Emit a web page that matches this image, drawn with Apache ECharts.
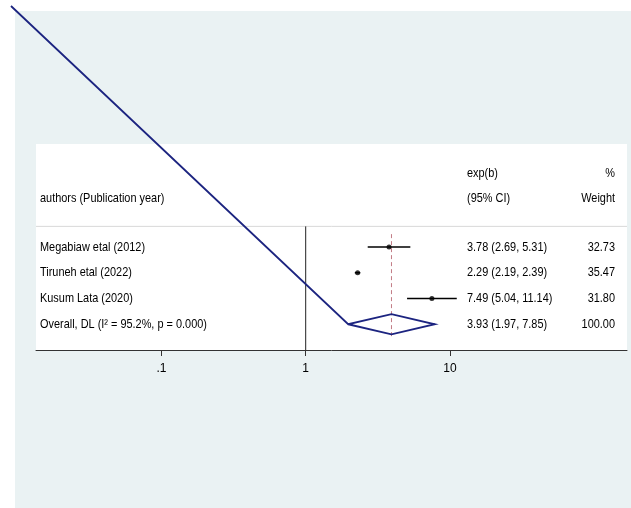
<!DOCTYPE html>
<html>
<head>
<meta charset="utf-8">
<script src="https://cdn.jsdelivr.net/npm/echarts@6/dist/echarts.min.js"></script>
<style>
  body { margin: 0; background: #fff; }
  #wrap { position: relative; width: 631px; height: 508px; }
  #bg { position: absolute; left: 15px; top: 11px; right: 0; bottom: 0; background: #eaf2f3; }
  #chart { position: absolute; left: 0; top: 0; width: 631px; height: 508px; }
</style>
</head>
<body>
<div id="wrap"><div id="bg"></div><div id="chart"></div></div>
<script>
// 数据
const studies = ["Megabiaw etal (2012)", "Tiruneh etal (2022)", "Kusum Lata (2020)"];
const estimates = [3.78, 2.29, 7.49];
const lowerCI = [2.69, 2.19, 5.04];
const upperCI = [5.31, 2.39, 11.14];
const weights = [32.73, 35.47, 31.80];
const overallLabel = "Overall, DL";
const overallCI = [3.93, 1.97, 7.85]; // est, lo, hi
const overallWeight = 100.0;
const heterogeneity = [95.2, 0.000]; // I², p
const tickValues = [0.1, 1, 10];
const tickLabels = [".1", "1", "10"];
// stray segment in the original export, runs from the top-left corner into the diamond
const strayStart = [0.00907, -8.36];

const FONT = '"Liberation Sans", Arial, sans-serif';
const SX = 0.84; // 横向压缩 (原图字体偏窄)
const xMin = 0.01352, xMax = 168.5;
const overallRow = studies.length + 1;

// table rows (text columns)
const tableRows = [
  { row: -1.85, cells: ["", "exp(b)", "%"] },
  { row: -0.88, cells: ["authors (Publication year)", "(95% CI)", "Weight"] }
];
studies.forEach((s, i) => {
  tableRows.push({
    row: i + 1,
    cells: [s,
      estimates[i].toFixed(2) + " (" + lowerCI[i].toFixed(2) + ", " + upperCI[i].toFixed(2) + ")",
      weights[i].toFixed(2)]
  });
});
tableRows.push({
  row: overallRow,
  cells: [overallLabel + " (I\u00B2 = " + heterogeneity[0].toFixed(1) + "%, p = " + heterogeneity[1].toFixed(3) + ")",
    overallCI[0].toFixed(2) + " (" + overallCI[1].toFixed(2) + ", " + overallCI[2].toFixed(2) + ")",
    overallWeight.toFixed(2)]
});

const myChart = echarts.init(document.getElementById("chart"));
const dh = 0.39; // 菱形半高

const diamondPts = [
  strayStart,
  [overallCI[1], overallRow],
  [overallCI[0], overallRow - dh],
  [overallCI[2], overallRow],
  [overallCI[0], overallRow + dh],
  [overallCI[1], overallRow]
];

const option = {
  backgroundColor: "transparent",
  animation: false,
  grid: {
    left: 36, right: 4, top: 144, bottom: 158,
    show: true, backgroundColor: "#fff", borderWidth: 0
  },
  xAxis: {
    type: "log",
    logBase: 10,
    min: xMin,
    max: xMax,
    splitLine: { show: false },
    axisLine: { show: true, onZero: false, lineStyle: { color: "#333", width: 1 } },
    axisTick: { show: true, length: 6, customValues: tickValues, lineStyle: { color: "#333" } },
    axisLabel: {
      customValues: tickValues,
      margin: 13,
      color: "#000",
      fontFamily: FONT,
      fontSize: 12,
      formatter: (v) => {
        const i = tickValues.findIndex((t) => Math.abs(t - v) / t < 1e-6);
        return i >= 0 ? tickLabels[i] : "";
      }
    }
  },
  yAxis: { type: "value", inverse: true, min: -3, max: 5, show: false },
  series: [
    {
      // 表头分隔线
      type: "line", silent: true, symbol: "none", z: 1,
      lineStyle: { color: "#d9d9d9", width: 1 },
      data: [[xMin, 0.2], [xMax, 0.2]]
    },
    {
      // null line
      type: "line", silent: true, symbol: "none",
      lineStyle: { color: "#222", width: 1 },
      data: [[1, 0.2], [1, 5]]
    },
    {
      // overall dashed line
      type: "line", silent: true, symbol: "none",
      lineStyle: { color: "#c27c85", width: 1, type: [4, 3] },
      data: [[overallCI[0], 0.5], [overallCI[0], studies.length + 1.5]]
    },
    {
      // CI lines
      type: "custom", silent: true,
      encode: { x: [0, 1], y: 2 },
      data: studies.map((s, i) => [lowerCI[i], upperCI[i], i + 1]),
      renderItem: (params, api) => {
        const p1 = api.coord([api.value(0), api.value(2)]);
        const p2 = api.coord([api.value(1), api.value(2)]);
        return {
          type: "line",
          shape: { x1: p1[0], y1: p1[1], x2: p2[0], y2: p2[1] },
          style: { stroke: "#000", lineWidth: 1.6 }
        };
      }
    },
    {
      type: "scatter", silent: true,
      symbolSize: 5,
      itemStyle: { color: "#000" },
      data: estimates.map((e, i) => [e, i + 1])
    },
    {
      // 菱形 + stray segment (custom, so it is not clipped to the grid)
      type: "custom", silent: true, clip: false, z: 10,
      encode: { x: 0, y: 1 },
      data: diamondPts,
      renderItem: (params, api) => {
        if (params.dataIndex !== 0) return null;
        const pts = diamondPts.map((p) => api.coord(p));
        return {
          type: "polyline",
          shape: { points: pts },
          style: { stroke: "#1c2480", lineWidth: 1.8, fill: null }
        };
      }
    },
    {
      // 文本列
      type: "custom", silent: true,
      encode: { x: 0, y: 1 },
      data: tableRows.map((r) => [1, r.row]),
      renderItem: (params, api) => {
        const r = tableRows[params.dataIndex];
        const y = api.coord([1, r.row])[1];
        const base = { fill: "#000", fontFamily: FONT, fontSize: 13, verticalAlign: "middle" };
        return {
          type: "group",
          children: [
            { type: "text", x: 40, y: y, scaleX: SX, style: Object.assign({ text: r.cells[0], align: "left" }, base) },
            { type: "text", x: 467, y: y, scaleX: SX, style: Object.assign({ text: r.cells[1], align: "left" }, base) },
            { type: "text", x: 615, y: y, scaleX: SX, style: Object.assign({ text: r.cells[2], align: "right" }, base) }
          ]
        };
      }
    }
  ]
};

myChart.setOption(option);
</script>
</body>
</html>
